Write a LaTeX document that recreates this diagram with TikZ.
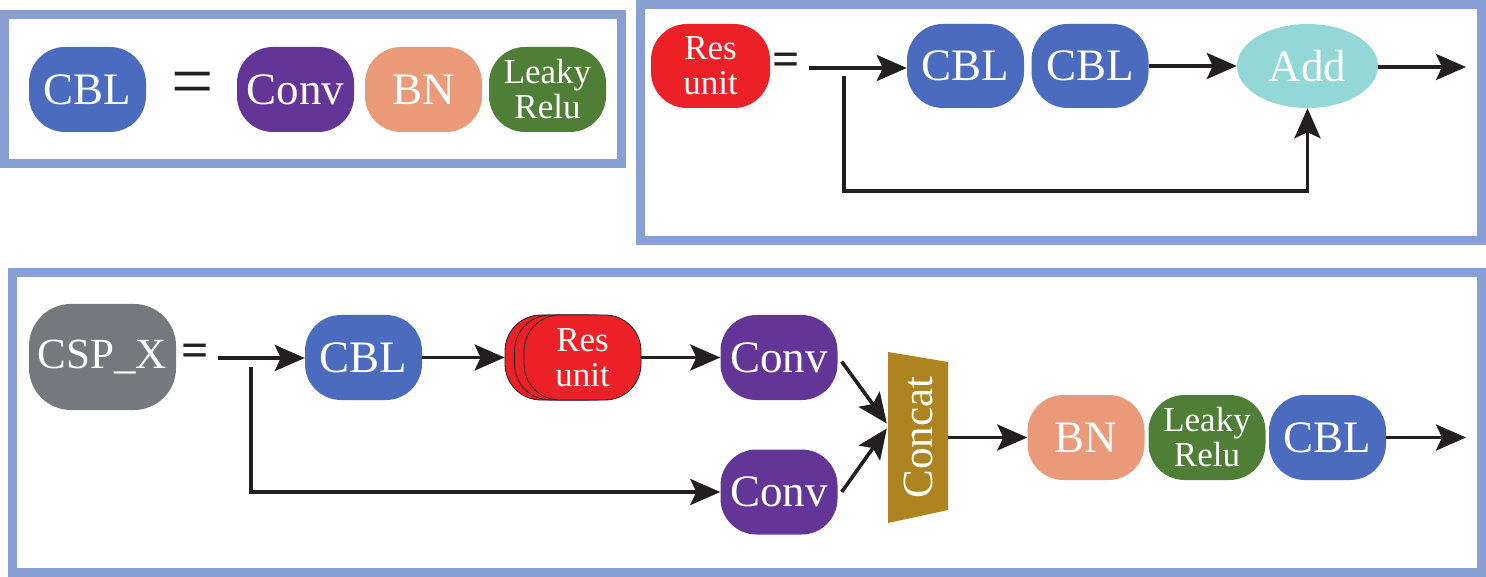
\documentclass[tikz,border=0pt]{standalone}
\usepackage{fontspec}
\setmainfont{Liberation Serif}
\usepackage{xcolor}
\definecolor{FrameBlue}{HTML}{889FD3}
\definecolor{CblBlue}{HTML}{4B6BBE}
\definecolor{ConvPurple}{HTML}{623597}
\definecolor{BnOrange}{HTML}{EA9A78}
\definecolor{ReluGreen}{HTML}{4F7F37}
\definecolor{ResRed}{HTML}{EC2027}
\definecolor{AddCyan}{HTML}{93D8D7}
\definecolor{CspGray}{HTML}{75787C}
\definecolor{ConcatGold}{HTML}{AE8421}
\definecolor{InkBlack}{HTML}{231F20}
\usepackage{tikz}
\usetikzlibrary{calc, arrows.meta, positioning, shapes.geometric}

\begin{document}
\begin{tikzpicture}[x=1pt,y=-1pt,
  blk/.style={rounded corners=36pt, minimum width=117pt, minimum height=85pt,
    inner sep=0pt, text=white, align=center, font=\fontsize{45}{45}\selectfont},
  two/.style={font=\fontsize{35}{35}\selectfont},
  frame/.style={draw=FrameBlue, line width=9pt},
  arr/.style={-{Stealth[length=30pt,width=26pt,inset=6pt]}, line width=3.6pt, draw=InkBlack},
  eq/.style={inner sep=0pt, text=InkBlack, font=\fontsize{48}{48}\selectfont\bfseries}]
  \useasboundingbox (0,0) rectangle (1486,577);

  % frames
  \draw[frame] (4.5,14.5) rectangle (621.5,163.5);
  \draw[frame] (640,4.5) rectangle (1481.5,240.5);
  \draw[frame] (12.5,273) rectangle (1481.5,572.5);

  % CBL = Conv BN Leaky Relu
  \node[blk,fill=CblBlue] (cbl) at (87.5,89.5) {CBL};
  \node[eq,font=\fontsize{75}{75}\selectfont] (eq1) at (193,89) {=};
  \node[blk,fill=ConvPurple] (conv) at (295.5,89.5) {Conv};
  \node[blk,fill=BnOrange] (bn) at (423.5,89.5) {BN};
  \node[blk,two,fill=ReluGreen] (relu) at (547.5,89.5) {Leaky\\Relu};

  % Res unit
  \node[blk,two,fill=ResRed,minimum width=119pt,minimum height=84pt] (res) at (710.5,66) {Res\\unit};
  \node[eq] (eq2) at (786,64) {=};
  \coordinate (s2) at (809,68);
  \node[blk,fill=CblBlue,minimum height=84pt] (cbla) at (965.5,66) {CBL};
  \node[blk,fill=CblBlue,minimum height=84pt] (cblb) at (1090,66) {CBL};
  \node[ellipse,fill=AddCyan,minimum width=141pt,minimum height=84pt,inner sep=0pt,
    text=white,font=\fontsize{45}{45}\selectfont] (add) at (1307.5,66) {Add};
  \coordinate (o2) at (1466,67);
  \coordinate (b2) at (844,76);
  \coordinate (b2low) at (844,191);
  \draw[arr] (s2) -- (s2 -| cbla.west);
  \draw[arr] (cblb.east) -- (add.west);
  \draw[arr] (add.east |- o2) -- (o2);
  \draw[arr] (b2) -- (b2low) -| (add.south);

  % CSP_X
  \node[blk,fill=CspGray,minimum width=147pt,minimum height=106pt,rounded corners=42pt,
    font=\fontsize{43}{43}\selectfont] (csp) at (102.5,357) {CSP\_X};
  \node[eq] (eq3) at (195,355) {=};
  \coordinate (s3) at (218,358);
  \node[blk,fill=CblBlue] (cblc) at (363.5,357.5) {CBL};
  \node[blk,fill=ResRed,draw=InkBlack,line width=0.8pt] (resc) at (563.5,357.5) {};
  \node[blk,fill=ResRed,draw=InkBlack,line width=0.8pt] (resb) at (573,357.5) {};
  \node[blk,two,fill=ResRed,draw=InkBlack,line width=0.8pt] (resa) at (582.5,357.5) {Res\\unit};
  \node[blk,fill=ConvPurple] (conva) at (779,357.5) {Conv};
  \node[blk,fill=ConvPurple] (convb) at (779,492) {Conv};
  \fill[ConcatGold] (888,352) -- (948,362) -- (948,510) -- (888,523) -- cycle;
  \node[minimum width=60pt,minimum height=171pt,inner sep=0pt,text=white,
    font=\fontsize{43}{43}\selectfont] (concat) at (918,437.5) {\rotatebox{90}{Concat}};
  \node[blk,fill=BnOrange] (bnc) at (1086,437.5) {BN};
  \node[blk,two,fill=ReluGreen] (reluc) at (1207,437.5) {Leaky\\Relu};
  \node[blk,fill=CblBlue] (cbld) at (1327.5,437.5) {CBL};
  \coordinate (o3) at (1466,437.5);
  \coordinate (b3) at (251,367);
  \draw[arr] (s3) -- (s3 -| cblc.west);
  \draw[arr] (cblc.east) -- (resc.west);
  \draw[arr] (resa.east) -- (conva.west);
  \draw[arr] (b3) |- (convb.west);
  \draw[arr] ($(conva.east)+(4,4)$) -- ($(concat.west)+(-1,-14)$);
  \draw[arr] ($(convb.east)+(4,0)$) -- ($(concat.west)+(-1,-9)$);
  \draw[arr] (concat.east) -- (bnc.west);
  \draw[arr] (cbld.east) -- (o3);
\end{tikzpicture}
\end{document}
